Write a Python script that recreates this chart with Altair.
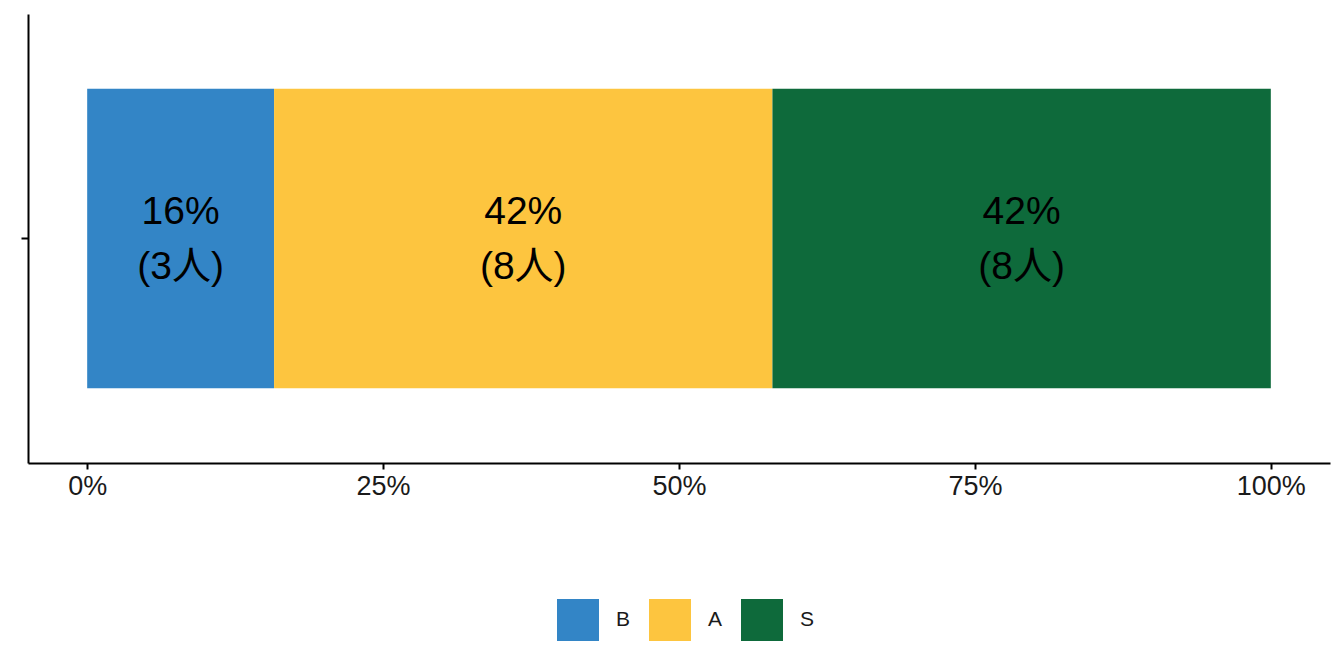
import altair as alt
import pandas as pd

categories = ["B", "A", "S"]
counts = [3, 8, 8]
order_idx = [1, 2, 3]
colors = ["#3385C6", "#FDC53F", "#0E6A3B"]
tick_values = [0, 0.25, 0.5, 0.75, 1.0]

total = sum(counts)
labels = [f"{round(c / total * 100)}%\n({c}人)" for c in counts]

df = pd.DataFrame({
    "grade": categories,
    "count": counts,
    "ord": order_idx,
    "label": labels,
    "row": [""] * len(categories),
})

FONT = "Liberation Sans, Noto Sans CJK JP"

x_scale = alt.Scale(domain=[-0.05, 1.05], nice=False, zero=False)
y_scale = alt.Scale(paddingInner=0, paddingOuter=0.25)

base = alt.Chart(df)

bars = base.mark_bar(strokeWidth=0).encode(
    x=alt.X("count:Q", stack="normalize", scale=x_scale,
            axis=alt.Axis(values=tick_values, format=".0%", title=None, grid=False,
                          domainColor="black", domainWidth=2, tickColor="black",
                          tickWidth=2, tickSize=6, labelFontSize=27, labelColor="#1a1a1a",
                          labelFont=FONT, labelPadding=4)),
    y=alt.Y("row:N", scale=y_scale,
            axis=alt.Axis(title=None, labels=False, domainColor="black", domainWidth=2,
                          tickColor="black", tickWidth=2, tickSize=7)),
    color=alt.Color("grade:N", scale=alt.Scale(domain=categories, range=colors),
                    legend=alt.Legend(title=None, orient="none", direction="horizontal",
                                      legendX=529, legendY=585, symbolType="square",
                                      symbolSize=1764, symbolStrokeWidth=0,
                                      symbolOpacity=1, labelFontSize=21, labelFont=FONT,
                                      labelColor="#1a1a1a", labelOffset=17,
                                      columnPadding=18, padding=0)),
    order=alt.Order("ord:Q"),
)

texts = base.transform_joinaggregate(
    tot="sum(count)"
).transform_calculate(
    frac="datum.count / datum.tot"
).transform_window(
    cum="sum(frac)", sort=[alt.SortField("ord")], frame=[None, 0]
).transform_calculate(
    mid="datum.cum - datum.frac / 2"
).mark_text(fontSize=39, font=FONT, color="black", lineBreak="\n", lineHeight=55,
            baseline="middle", align="center", dy=-27).encode(
    x=alt.X("mid:Q", scale=x_scale),
    y=alt.Y("row:N", scale=y_scale),
    text="label:N",
)

chart = (bars + texts).properties(
    width=1302, height=449,
    autosize=alt.AutoSizeParams(type="none"),
    padding={"left": 20, "top": 6, "right": 4, "bottom": 180},
    background="white",
).configure_view(stroke=None)

chart.save("out.html", embed_options={"renderer": "svg", "actions": False})
